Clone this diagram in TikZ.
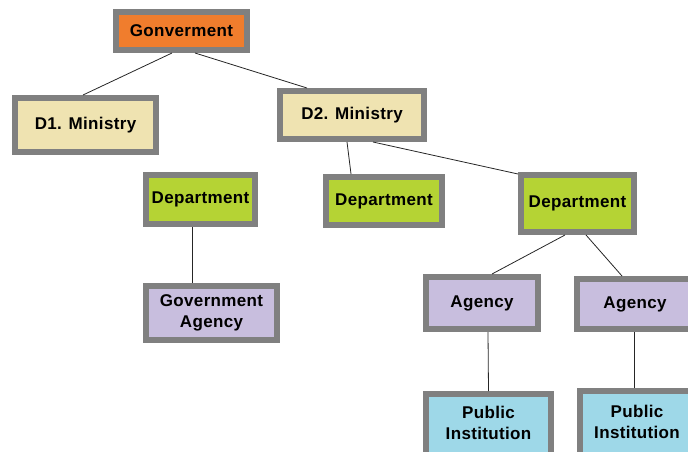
\documentclass[tikz,border=0pt]{standalone}
\usepackage{fontspec}
\setmainfont[LetterSpace=2]{Liberation Sans}
\usepackage{tikz}
\definecolor{govorange}{RGB}{240,125,45}
\definecolor{minbeige}{RGB}{239,227,177}
\definecolor{depgreen}{RGB}{181,211,52}
\definecolor{aglilac}{RGB}{200,190,222}
\definecolor{instblue}{RGB}{158,216,232}
\definecolor{boxgray}{RGB}{128,128,128}
\tikzset{orgbox/.style={shape=rectangle, draw=boxgray, line width=6pt, inner sep=0pt,
    align=center, font=\fontsize{17}{21}\selectfont\bfseries},
    cutbox/.style={orgbox, text depth=15pt},
    link/.style={draw=black!85, line width=0.8pt}}

\begin{document}
\begin{tikzpicture}[x=1pt,y=-1pt]
                        \useasboundingbox (0,0) rectangle (688,451);

                        \node[orgbox, fill=govorange, minimum width=131pt, minimum height=38pt] (G) at (181.5,31) {Gonverment};
                        \node[orgbox, fill=minbeige, minimum width=141pt, minimum height=54pt] (M1) at (85.5,125) {D1. Ministry};
                        \node[orgbox, fill=minbeige, minimum width=144pt, minimum height=48pt] (M2) at (352,115) {D2. Ministry};
                        \node[orgbox, fill=depgreen, minimum width=109pt, minimum height=49pt] (D1) at (200.5,199.5) {Department};
                        \node[orgbox, fill=aglilac, minimum width=131pt, minimum height=54pt] (GA) at (211.5,313) {Government\\Agency};
                        \node[orgbox, fill=depgreen, minimum width=116pt, minimum height=48pt] (D2) at (384,201) {Department};
                        \node[orgbox, fill=depgreen, minimum width=113pt, minimum height=57pt] (D3) at (577.5,203.5) {Department};
                        \node[orgbox, fill=aglilac, minimum width=112pt, minimum height=52pt] (A1) at (482,303) {Agency};
                        \node[orgbox, fill=aglilac, minimum width=116pt, minimum height=50pt] (A2) at (635,304) {Agency};
                        \node[cutbox, fill=instblue, minimum width=125pt, minimum height=73pt] (P1) at (488.5,430.5) {Public\\Institution};
                        \node[cutbox, fill=instblue, minimum width=114pt, minimum height=76pt] (P2) at (637,429) {Public\\Institution};

                        \draw[link] ([xshift=-9.5pt]G.south) -- ([xshift=-2.5pt]M1.north);
                        \draw[link] ([xshift=13.5pt]G.south) -- ([xshift=-45pt]M2.north);
                        \draw[link] ([xshift=-5pt]M2.south) -- ([xshift=-33pt]D2.north);
                        \draw[link] ([xshift=21pt]M2.south) -- ([yshift=-2pt]D3.north west);
                        \draw[link] ([xshift=-8.5pt]D1.south) -- ([xshift=-19.5pt]GA.north);
                        \draw[link] ([xshift=-12.5pt]D3.south) -- ([xshift=10pt]A1.north);
                        \draw[link] ([xshift=8.5pt]D3.south) -- ([xshift=-13pt]A2.north);
                        \draw[link] ([xshift=-1pt]A2.south) -- ([xshift=-3pt]P2.north);
                        \draw[link] ([xshift=6pt]A1.south) -- (P1.north);

\end{tikzpicture}
\end{document}
